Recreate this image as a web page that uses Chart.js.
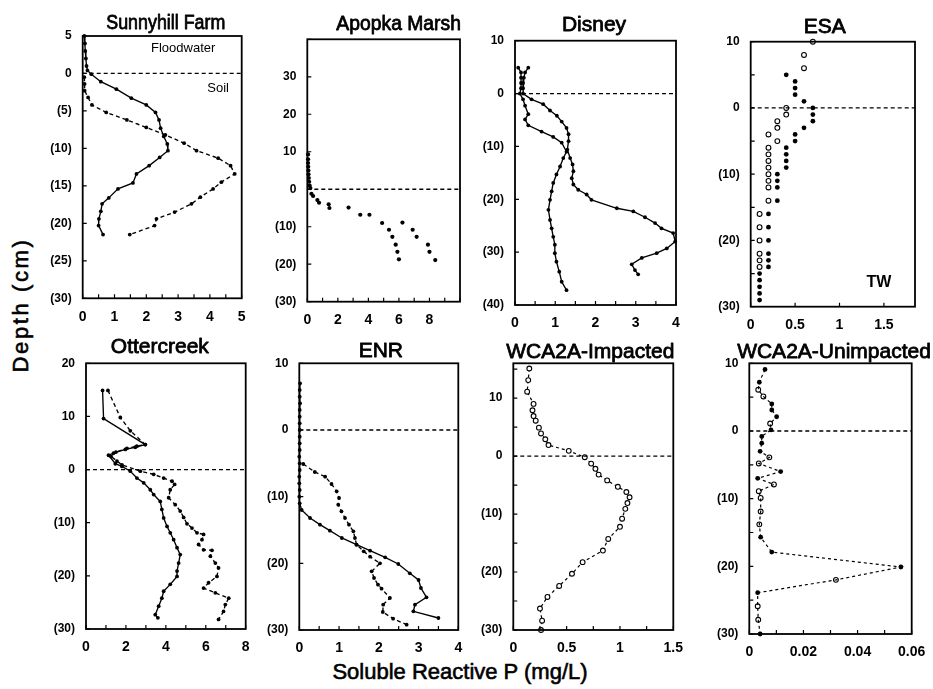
<!DOCTYPE html>
<html><head><meta charset="utf-8">
<script src="https://cdn.jsdelivr.net/npm/chart.js@4"></script>
<style>
html,body{margin:0;padding:0;background:#fff;}
body{width:933px;height:689px;overflow:hidden;position:relative;font-family:"Liberation Sans",Arial,sans-serif;color:#000;}
canvas{position:absolute;left:0;top:0;pointer-events:none;}
.axt{position:absolute;white-space:nowrap;font-size:22px;line-height:22px;-webkit-text-stroke:0.6px #000;}
#ylab{left:20.8px;top:305px;transform:translate(-50%,-50%) rotate(-90deg);letter-spacing:2.6px;}
#xlab{left:460px;top:672px;transform:translate(-50%,-50%);}
</style></head>
<body>
<div id="ylab" class="axt">Depth (cm)</div>
<div id="xlab" class="axt">Soluble Reactive P (mg/L)</div>
<script>
// ---------------- DATA: [SRP (mg/L), depth (cm, negative = below soil surface)] ----------------
const sunnyhillSolid = [[0.05,5],[0.07,4],[0.08,3],[0.1,2],[0.12,1],[0.15,0.4],[0.27,-0.1],[0.57,-1.1],[1.06,-2.1],[1.53,-3.3],[2.0,-4.2],[2.29,-5.2],[2.4,-6.2],[2.45,-7.3],[2.55,-8.4],[2.66,-9.4],[2.68,-10.3],[2.42,-11.2],[2.09,-12.3],[1.69,-13.4],[1.58,-14.6],[1.11,-15.4],[0.82,-16.6],[0.61,-17.4],[0.57,-18.4],[0.51,-19.4],[0.5,-20.3],[0.64,-21.5]];
const sunnyhillDashed = [[0.05,-0.5],[0.06,-1.4],[0.06,-2.3],[0.17,-3.2],[0.29,-4.2],[0.74,-5.2],[1.39,-6.2],[2.0,-7.2],[2.6,-8.2],[3.19,-9.3],[3.58,-10.3],[4.26,-11.3],[4.65,-12.3],[4.78,-13.4],[4.36,-14.5],[4.1,-15.4],[3.7,-16.5],[3.42,-17.4],[2.89,-18.5],[2.32,-19.4],[2.26,-20.3],[1.48,-21.5]];

const apopkaA = [[0.05,9.3],[0.05,8],[0.05,7],[0.06,6],[0.07,5],[0.08,4],[0.1,3],[0.12,2],[0.15,1],[0.2,0.3],[0.27,-1.2],[0.38,-1.8],[0.66,-2.9],[0.77,-3.6],[1.4,-4.0],[2.7,-4.9],[3.47,-6.8],[4.9,-9.0],[5.35,-10.8],[5.57,-12.7],[5.79,-14.8],[5.9,-16.7],[6.0,-18.7]];
const apopkaB = [[1.45,-5.0],[4.07,-6.8],[6.23,-8.9],[6.9,-10.8],[7.16,-12.7],[7.9,-14.8],[8.0,-16.7],[8.38,-18.9]];

const disneyA = [[0.33,4.9],[0.25,4],[0.22,3],[0.2,2],[0.2,1],[0.2,0],[0.41,-1.1],[0.7,-2.0],[0.87,-3.2],[1.04,-4.2],[1.16,-5.3],[1.28,-6.5],[1.33,-7.7],[1.33,-9],[1.3,-10.6],[1.37,-12.2],[1.43,-13.4],[1.45,-14.7],[1.41,-16],[1.45,-17.2],[1.57,-18.2],[1.78,-19.1],[1.9,-20.1],[2.53,-21.7],[2.94,-22.3],[3.23,-23.4],[3.48,-24.5],[3.64,-25.5],[3.93,-26.4],[3.98,-28],[3.77,-29.3],[3.52,-30.2],[3.15,-31.1],[2.9,-32.3],[2.98,-33.4],[3.06,-34.2]];
const disneyB = [[0.08,4.9],[0.15,4],[0.15,3],[0.15,2],[0.15,1],[0.12,0],[0.2,-1.1],[0.25,-2.3],[0.33,-3.9],[0.25,-4.9],[0.33,-6.0],[0.66,-7.2],[0.95,-8.2],[1.16,-9.3],[1.28,-11],[1.2,-12.2],[1.12,-13.8],[1.03,-15.3],[0.95,-16.9],[0.91,-18.5],[0.87,-20.1],[0.83,-22],[0.87,-23.9],[0.91,-25.5],[0.95,-27.1],[0.99,-28.6],[0.99,-30.2],[1.03,-31.8],[1.1,-33.7],[1.16,-35.6],[1.28,-37.2]];

const esaOpen = [[0.7,10],[0.6,8],[0.6,6],[0.4,0],[0.4,-1],[0.3,-2],[0.3,-3],[0.2,-4],[0.3,-5],[0.2,-6],[0.2,-7],[0.2,-8],[0.2,-9],[0.2,-10],[0.2,-11],[0.2,-12],[0.2,-14],[0.1,-16],[0.1,-18],[0.1,-20],[0.1,-22],[0.1,-23],[0.1,-24]];
const esaFilled = [[0.4,5],[0.5,4],[0.5,3],[0.5,2],[0.6,1],[0.7,0],[0.7,-1],[0.7,-2],[0.6,-3],[0.5,-4],[0.5,-5],[0.4,-6],[0.4,-7],[0.4,-8],[0.4,-9],[0.3,-10],[0.3,-11],[0.3,-12],[0.3,-14],[0.2,-16],[0.2,-18],[0.2,-20],[0.2,-22],[0.2,-23],[0.2,-24],[0.1,-25],[0.1,-26],[0.1,-27],[0.1,-28],[0.1,-29]];

const otterSolid = [[0.83,14.9],[0.88,9.6],[2.97,4.7],[2.47,4.2],[1.97,3.8],[1.38,3.1],[1.13,2.7],[1.47,1.1],[1.8,0.6],[2.22,-0.3],[2.55,-1.6],[2.89,-2.5],[3.22,-3.8],[3.39,-4.7],[3.72,-6],[3.8,-7.5],[3.89,-9.1],[4.06,-10.7],[4.22,-11.9],[4.39,-13.2],[4.56,-14.7],[4.72,-16],[4.64,-17.6],[4.56,-19.1],[4.56,-20.1],[4.22,-21.6],[3.89,-22.9],[3.8,-24.2],[3.64,-25.7],[3.47,-27.3],[3.6,-27.9]];
const otterDashed = [[1.1,14.9],[1.72,9.8],[2.22,7.3],[2.97,4.7],[2.55,4.4],[2.05,4.0],[1.5,3.3],[1.25,2.5],[1.55,1.6],[1.8,0.9],[2.72,-0.3],[3.39,-0.9],[3.89,-1.6],[4.31,-2.2],[4.44,-2.8],[4.22,-3.8],[4.14,-5.3],[4.47,-6.6],[4.72,-7.8],[4.89,-9],[5.06,-10.2],[5.31,-11],[5.56,-11.9],[5.89,-12.2],[5.81,-13.2],[5.64,-14.1],[5.89,-15.1],[6.31,-15.2],[6.23,-16.3],[6.48,-17.6],[6.64,-18.5],[6.56,-20.1],[6.14,-21.3],[5.89,-22.3],[6.48,-23.2],[7.15,-24.2],[6.98,-25.4],[6.89,-26.7],[6.64,-28.2]];

const enrSolid = [[0.02,7],[0.01,6],[0.01,5],[0.02,4],[0.01,3],[0.01,2],[0.01,1],[0.01,0],[0.01,-1],[0.01,-2],[0.01,-3],[0,-4],[0.01,-5],[0.01,-6],[0,-7],[0,-8],[0.01,-9],[0,-10],[0.01,-11],[0.06,-12],[0.27,-13.2],[0.52,-14.2],[0.77,-15.1],[1.07,-16.2],[1.44,-17.2],[1.78,-18.1],[2.16,-19.1],[2.49,-20.1],[2.78,-21.5],[3.0,-22.5],[3.06,-23.7],[3.2,-25.1],[2.91,-26.2],[2.87,-27.2],[3.5,-28.2]];
const enrDashed = [[0.1,-5.1],[0.39,-6.3],[0.65,-7],[0.81,-8.1],[0.94,-9.2],[1.0,-10.2],[0.98,-11.2],[1.06,-12.2],[1.15,-13.2],[1.25,-14.2],[1.36,-15.2],[1.4,-16.2],[1.44,-17.2],[1.62,-18.2],[1.78,-19.0],[2.03,-20.0],[1.82,-21.2],[1.88,-22.2],[1.98,-23.2],[2.07,-23.8],[2.28,-25.2],[2.11,-26.2],[2.1,-27.3],[2.36,-28.3],[2.7,-29.2]];

const wcaImpacted = [[0.15,15.1],[0.14,13.1],[0.13,11.1],[0.19,9.0],[0.18,7.9],[0.19,6.9],[0.21,6.1],[0.24,4.9],[0.26,3.9],[0.3,2.9],[0.33,1.9],[0.52,0.9],[0.67,-0.2],[0.73,-1.3],[0.77,-2.2],[0.8,-3.2],[0.88,-4.2],[0.98,-5.3],[1.06,-6.2],[1.09,-7.1],[1.07,-8.1],[1.05,-9.1],[1.02,-10.8],[1.0,-12.2],[0.89,-14.3],[0.84,-16.3],[0.65,-18.3],[0.55,-20.3],[0.43,-22.4],[0.32,-24.3],[0.25,-26.3],[0.27,-28.4],[0.26,-30]];

const wcaUnimpFilled = [[0.0058,9.1],[0.0037,7.2],[0.0083,4.0],[0.0083,3.1],[0.0101,2.1],[0.008,0.15],[0.0046,-0.8],[0.0046,-1.8],[0.004,-3.0],[0.0116,-6.0],[0.0031,-7.0],[0.0042,-15.7],[0.0083,-17.9],[0.056,-20.1],[0.0031,-23.9],[0.004,-30]];
const wcaUnimpOpen = [[0.0033,6.1],[0.0052,5.1],[0.0077,1.1],[0.0074,-3.9],[0.0035,-4.8],[0.0091,-7.9],[0.0035,-8.9],[0.0042,-9.9],[0.0042,-11.9],[0.0037,-13.8],[0.032,-22.0],[0.0031,-25.9],[0.0033,-27.9]];

// tick label values
const sunnyXTicks = [0,1,2,3,4,5],      sunnyYTicks = [5,0,-5,-10,-15,-20,-25,-30];
const apopkaXTicks = [0,2,4,6,8],       apopkaYTicks = [30,20,10,0,-10,-20,-30];
const disneyXTicks = [0,1,2,3,4],       disneyYTicks = [10,0,-10,-20,-30,-40];
const esaXTicks = [0,0.5,1,1.5],        esaYTicks = [10,0,-10,-20,-30];
const otterXTicks = [0,2,4,6,8],        otterYTicks = [20,10,0,-10,-20,-30];
const enrXTicks = [0,1,2,3,4],          enrYTicks = [10,0,-10,-20,-30];
const wcaIXTicks = [0,0.5,1,1.5],       wcaIYTicks = [10,0,-10,-20,-30];
const wcaUXTicks = [0,0.02,0.04,0.06],  wcaUYTicks = [10,0,-10,-20,-30];

// ---------------- STYLE / LAYOUT ----------------
Chart.defaults.font.family = '"Liberation Sans", Arial, sans-serif';
Chart.defaults.color = '#000';
const CW = 933, CH = 689, YW = 40, XH = 24;
const FONT = '"Liberation Sans", Arial, sans-serif';

const fmtDepth = v => v < 0 ? '(' + (-v) + ')' : String(v);
const toXY = arr => arr.map(([x, y]) => ({x, y}));

function series(arr, kind) {
  const base = {data: toXY(arr), borderColor:'#000', pointBorderColor:'#000', clip:false, fill:false, tension:0};
  if (kind === 'solid') return Object.assign(base, {showLine:true, borderWidth:1.35, pointRadius:1.9, pointBackgroundColor:'#000', pointBorderWidth:0});
  if (kind === 'dashed') return Object.assign(base, {showLine:true, borderWidth:1.35, borderDash:[4,3], pointRadius:1.9, pointBackgroundColor:'#000', pointBorderWidth:0});
  if (kind === 'dashedOpen') return Object.assign(base, {showLine:true, borderWidth:1.2, borderDash:[3,3], pointRadius:2.4, pointBackgroundColor:'#fff', pointBorderWidth:1.1});
  if (kind === 'dashedLine') return Object.assign(base, {showLine:true, borderWidth:1.2, borderDash:[3,3], pointRadius:0});
  if (kind === 'dots') return Object.assign(base, {showLine:false, pointRadius:2.1, pointBackgroundColor:'#000', pointBorderWidth:0});
  if (kind === 'bigDots') return Object.assign(base, {showLine:false, pointRadius:2.4, pointBackgroundColor:'#000', pointBorderWidth:0});
  if (kind === 'open') return Object.assign(base, {showLine:false, pointRadius:2.4, pointBackgroundColor:'#fff', pointBorderWidth:1.1});
}

const decor = {
  id: 'decor',
  afterDraw(chart, args, o) {
    const {ctx, chartArea: a, scales: {x, y}} = chart;
    ctx.save();
    // frame
    ctx.strokeStyle = '#000'; ctx.lineWidth = 1.8;
    ctx.strokeRect(a.left, a.top, a.right - a.left, a.bottom - a.top);
    // inward ticks
    ctx.lineWidth = 1.2;
    ctx.beginPath();
    const eps = 1e-9;
    for (let v = x.min; v <= x.max + eps; v += o.xStep) {
      const p = x.getPixelForValue(v);
      ctx.moveTo(p, a.bottom); ctx.lineTo(p, a.bottom - 4);
    }
    for (let v = y.min; v <= y.max + eps; v += o.yStep) {
      const p = y.getPixelForValue(v);
      ctx.moveTo(a.left, p); ctx.lineTo(a.left + 4, p);
    }
    ctx.stroke();
    // title
    ctx.fillStyle = '#000'; ctx.strokeStyle = '#000'; ctx.lineWidth = 0.8; ctx.lineJoin = 'round';
    ctx.font = o.titleFont || ('21px ' + FONT);
    ctx.textAlign = 'center'; ctx.textBaseline = 'alphabetic';
    ctx.translate((a.left + a.right) / 2 + (o.titleDx || 0), a.top - o.titleGap);
    ctx.scale(o.titleScale || 1, 1);
    ctx.fillText(o.title, 0, 0);
    ctx.strokeText(o.title, 0, 0);
    ctx.restore();
    // annotations
    (o.notes || []).forEach(n => {
      ctx.save();
      ctx.fillStyle = '#000'; ctx.font = n.font; ctx.textAlign = 'center'; ctx.textBaseline = 'alphabetic';
      ctx.fillText(n.text, x.getPixelForValue(n.x), y.getPixelForValue(n.y));
      ctx.restore();
    });
  }
};

function panel(cfg) {
  const cv = document.createElement('canvas');
  cv.width = CW; cv.height = CH;
  cv.style.width = CW + 'px'; cv.style.height = CH + 'px';
  document.body.appendChild(cv);
  const [L, T, R, B] = cfg.box;
  const zero = series([[cfg.x[0], 0], [cfg.x[1], 0]], 'dashedLine');
  zero.borderDash = [4, 3]; zero.borderWidth = 1.3;
  new Chart(cv, {
    type: 'scatter',
    data: {datasets: [zero].concat(cfg.datasets)},
    options: {
      responsive: false, animation: false, devicePixelRatio: 1,
      events: [],
      layout: {padding: {left: L - YW, top: T, right: CW - R, bottom: CH - B - XH}},
      plugins: {legend: {display: false}, tooltip: {enabled: false}, decor: cfg.decor},
      scales: {
        x: {
          type: 'linear', min: cfg.x[0], max: cfg.x[1],
          afterBuildTicks: s => { s.ticks = cfg.xTicks.map(v => ({value: v})); },
          afterFit: s => { s.height = XH; },
          grid: {display: false}, border: {display: false},
          ticks: {autoSkip: false, maxRotation: 0, padding: 2, font: {size: 14, weight: 'bold'},
                   callback: v => String(v)}
        },
        y: {
          type: 'linear', min: cfg.y[0], max: cfg.y[1],
          afterBuildTicks: s => { s.ticks = cfg.yTicks.map(v => ({value: v})); },
          afterFit: s => { s.width = YW; },
          grid: {display: false}, border: {display: false},
          ticks: {autoSkip: false, padding: 3, font: {size: 12, weight: 'bold'}, callback: fmtDepth}
        }
      }
    },
    plugins: [decor]
  });
}

panel({box:[82.7,36,241.7,298.3], x:[0,5], y:[-30,5], xTicks:sunnyXTicks, yTicks:sunnyYTicks,
  datasets:[series(sunnyhillSolid,'solid'), series(sunnyhillDashed,'dashed')],
  decor:{title:'Sunnyhill Farm', titleDx:3.6, titleGap:6.7, titleScale:0.85, xStep:0.5, yStep:5,
    notes:[{text:'Floodwater', x:3.16, y:2.8, font:'13px '+FONT}, {text:'Soil', x:4.26, y:-2.46, font:'13px '+FONT}]}});

panel({box:[307.3,39.3,460,301.7], x:[0,10], y:[-30,40], xTicks:apopkaXTicks, yTicks:apopkaYTicks,
  datasets:[series(apopkaA,'dots'), series(apopkaB,'dots')],
  decor:{title:'Apopka Marsh', titleDx:15, titleGap:9.8, titleScale:0.92, xStep:1, yStep:10}});

panel({box:[515,40.7,676,305], x:[0,4], y:[-40,10], xTicks:disneyXTicks, yTicks:disneyYTicks,
  datasets:[series(disneyA,'solid'), series(disneyB,'solid')],
  decor:{title:'Disney', titleDx:-1.5, titleGap:10, xStep:0.5, yStep:10}});

panel({box:[750.7,41.7,915,306.7], x:[0,1.85], y:[-30,10], xTicks:esaXTicks, yTicks:esaYTicks,
  datasets:[series(esaOpen,'open'), series(esaFilled,'bigDots')],
  decor:{title:'ESA', titleDx:-8, titleGap:8.4, xStep:0.5, yStep:5,
    notes:[{text:'TW', x:1.445, y:-27, font:'bold 16px '+FONT}]}});

panel({box:[86,363.3,245.7,629], x:[0,8], y:[-30,20], xTicks:otterXTicks, yTicks:otterYTicks,
  datasets:[series(otterSolid,'solid'), series(otterDashed,'dashed')],
  decor:{title:'Ottercreek', titleDx:-6, titleGap:10.6, xStep:1, yStep:10}});

panel({box:[299.3,363.3,458.3,630], x:[0,4], y:[-30,10], xTicks:enrXTicks, yTicks:enrYTicks,
  datasets:[series(enrSolid,'solid'), series(enrDashed,'dashed')],
  decor:{title:'ENR', titleDx:2, titleGap:6.6, xStep:0.5, yStep:10}});

panel({box:[513.3,363.3,673.3,630], x:[0,1.5], y:[-30,16], xTicks:wcaIXTicks, yTicks:wcaIYTicks,
  datasets:[series(wcaImpacted,'dashedOpen')],
  decor:{title:'WCA2A-Impacted', titleDx:-3, titleGap:5, xStep:0.25, yStep:5}});

const wcaUnimpAll = wcaUnimpFilled.concat(wcaUnimpOpen).sort((a, b) => b[1] - a[1]);
panel({box:[749.3,363.3,911.7,634], x:[0,0.06], y:[-30,10], xTicks:wcaUXTicks, yTicks:wcaUYTicks,
  datasets:[series(wcaUnimpAll,'dashedLine'), series(wcaUnimpOpen,'open'), series(wcaUnimpFilled,'bigDots')],
  decor:{title:'WCA2A-Unimpacted', titleDx:3.5, titleGap:5.3, xStep:0.01, yStep:5}});
</script>
</body></html>
